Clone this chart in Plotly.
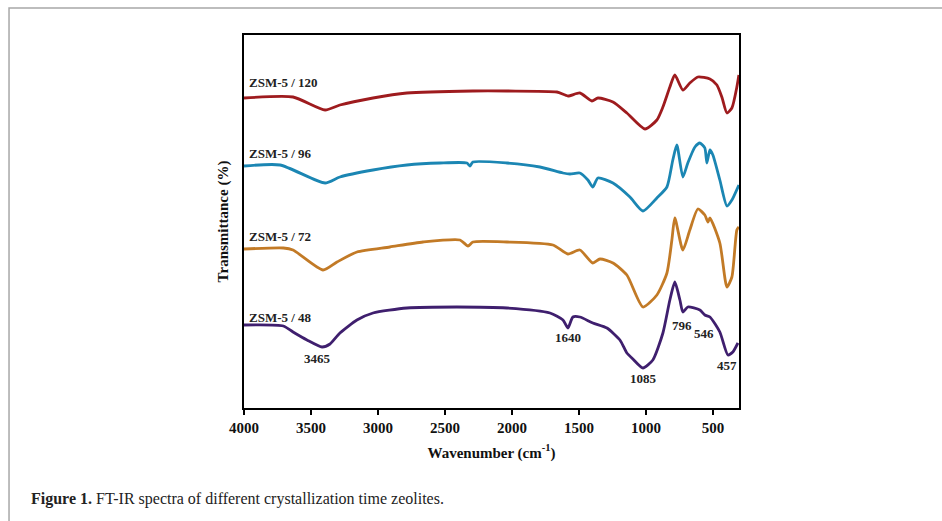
import plotly.graph_objects as go

# ---- data (x: wavenumber cm-1, y: transmittance, arbitrary offset units) ----
wn_120 = [4000, 3634, 3395, 3284, 3037, 2784, 2291, 2037, 1664, 1582, 1493, 1403, 1358, 1246, 1142,
          1007, 918, 873, 821, 784, 724, 672, 612, 522, 470, 433, 395, 358, 321, 306]
t_120 = [310, 311, 298, 303, 310, 315, 317, 317, 316, 312, 315, 307, 310, 306, 295,
         279, 288, 301, 321, 333, 318, 325, 331, 329, 323, 311, 295, 300, 321, 333]

wn_96 = [4000, 3731, 3395, 3284, 3037, 2784, 2537, 2336, 2314, 2291, 2037, 1791, 1619, 1567, 1493,
         1433, 1396, 1358, 1246, 1119, 1022, 918, 843, 799, 769, 724, 687, 634, 597, 560, 545,
         522, 500, 448, 395, 358, 306]
t_96 = [242, 243, 225, 231, 238, 243, 245, 245, 242, 246, 245, 241, 235, 234, 235,
        228, 221, 230, 225, 211, 197, 210, 221, 248, 263, 231, 245, 261, 265, 260, 245,
        258, 253, 228, 202, 208, 223]

wn_72 = [4000, 3706, 3634, 3410, 3306, 3157, 2911, 2664, 2388, 2328, 2291, 2037, 1694, 1582, 1493,
         1396, 1343, 1246, 1142, 1022, 918, 843, 806, 784, 724, 672, 612, 560, 537, 522, 448,
         395, 358, 321, 306]
t_72 = [159, 160, 158, 138, 146, 156, 161, 166, 168, 162, 166, 166, 163, 154, 158,
        145, 149, 145, 133, 101, 113, 135, 168, 190, 158, 178, 199, 193, 186, 190, 165,
        121, 131, 178, 181]

wn_48 = [4000, 3706, 3634, 3530, 3418, 3358, 3284, 3157, 3037, 2784, 2411, 2037, 1716, 1619, 1582,
         1545, 1493, 1396, 1291, 1194, 1142, 1097, 1022, 948, 873, 821, 784, 746, 724, 687, 597,
         560, 522, 448, 388, 351, 313]
t_48 = [83, 82, 76, 68, 61, 64, 75, 88, 95, 100, 101, 100, 95, 88, 80,
        91, 91, 85, 80, 68, 55, 49, 40, 48, 75, 108, 126, 108, 96, 101, 98,
        93, 91, 76, 53, 56, 65]

series_names = ["ZSM-5 / 120", "ZSM-5 / 96", "ZSM-5 / 72", "ZSM-5 / 48"]
series_colors = ["#9e1b1e", "#1b86b3", "#c27a26", "#3f1f6e"]
label_wn = [3975, 3975, 3975, 3975]
label_t = [326, 255, 172, 91]

peak_text = ["3465", "1640", "1085", "796", "546", "457"]
peak_wn = [3448, 1582, 1015, 731, 567, 395]
peak_t = [50, 71, 30, 83, 75, 43]

x_ticks = [4000, 3500, 3000, 2500, 2000, 1500, 1000, 500]

SERIF = "Liberation Serif, Times New Roman, serif"

fig = go.Figure()
for wn, t, c, n in zip([wn_120, wn_96, wn_72, wn_48], [t_120, t_96, t_72, t_48],
                       series_colors, series_names):
    fig.add_trace(go.Scatter(x=wn, y=t, mode="lines", name=n,
                             line=dict(color=c, width=2.8, shape="spline", smoothing=0.6),
                             showlegend=False, hoverinfo="skip"))

for n, xw, yt in zip(series_names, label_wn, label_t):
    fig.add_annotation(x=xw, y=yt, text="<b>%s</b>" % n, showarrow=False, xanchor="left",
                       yanchor="middle", font=dict(family=SERIF, size=13, color="#222"))

for s, xw, yt in zip(peak_text, peak_wn, peak_t):
    fig.add_annotation(x=xw, y=yt, text="<b>%s</b>" % s, showarrow=False,
                       font=dict(family=SERIF, size=13, color="#222"))

fig.add_annotation(xref="paper", yref="paper", x=-0.434, y=-0.243, xanchor="left", yanchor="middle",
                   text="<b>Figure 1.</b> FT-IR spectra of different crystallization time zeolites.",
                   showarrow=False, font=dict(family=SERIF, size=16, color="#222"))

# outer grey frame of the figure panel
fig.add_shape(type="rect", xref="paper", yref="paper", x0=-0.4747, x1=1.6, y0=-0.5, y1=1.0724,
              line=dict(color="#a8a8a8", width=1.5), fillcolor="rgba(0,0,0,0)", layer="below")

fig.update_layout(
    width=942, height=521,
    margin=dict(l=244, r=203, t=35, b=113),
    paper_bgcolor="white", plot_bgcolor="white",
    font=dict(family=SERIF, color="#111"),
)
fig.update_xaxes(range=[4000, 305], tickvals=x_ticks, ticktext=["<b>%d</b>" % v for v in x_ticks],
                 ticks="outside", ticklen=5, tickwidth=2, tickcolor="black",
                 showline=True, linecolor="black", linewidth=2, mirror=True,
                 showgrid=False, zeroline=False, tickfont=dict(family=SERIF, size=15, color="#111"),
                 title=dict(text="<b>Wavenumber (cm<sup>-1</sup>)</b>", standoff=12,
                            font=dict(family=SERIF, size=15, color="#111")))
fig.update_yaxes(range=[0, 373], showticklabels=False, ticks="",
                 showline=True, linecolor="black", linewidth=2, mirror=True,
                 showgrid=False, zeroline=False,
                 title=dict(text="<b>Transmittance (%)</b>", standoff=10,
                            font=dict(family=SERIF, size=15, color="#111")))

fig.write_html("out.html")
